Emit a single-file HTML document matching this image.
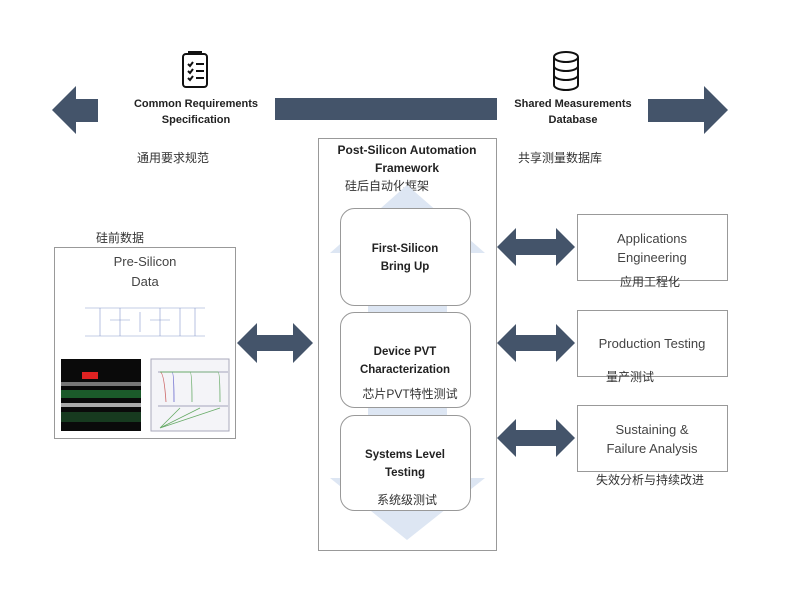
<!DOCTYPE html>
<html><head><meta charset="utf-8"><style>
body{margin:0;background:#fff;}
svg text{font-family:"Liberation Sans","Noto Sans CJK SC",sans-serif;}
</style></head><body>
<svg width="800" height="600" viewBox="0 0 800 600" xmlns="http://www.w3.org/2000/svg">
<rect width="800" height="600" fill="#fff"/>
<!-- top arrows -->
<g fill="#44546a">
<polygon points="52,110 76,86 76,99 98,99 98,122 76,122 76,134"/>
<rect x="275" y="98" width="222" height="22"/>
<polygon points="648,99 704,99 704,86 728,110 704,134 704,122 648,122"/>
</g>
<g font-weight="bold" font-size="11" fill="#222" text-anchor="middle">
<text x="196" y="107">Common Requirements</text>
<text x="196" y="123">Specification</text>
<text x="573" y="107">Shared Measurements</text>
<text x="573" y="123">Database</text>
</g>
<!-- clipboard icon -->
<g stroke="#111" stroke-width="2" fill="none">
<rect x="183" y="54" width="24" height="33" rx="3"/>
<path d="M189,55 v-3 h12 v3"/>
<path d="M188,64 l2,2 3,-4 M188,71 l2,2 3,-4 M188,78 l2,2 3,-4"/>
<path d="M196,64 h8 M196,71 h8 M196,78 h8"/>
</g>
<!-- database icon -->
<g stroke="#111" stroke-width="2" fill="none">
<ellipse cx="566" cy="57" rx="12" ry="5"/>
<path d="M554,57 v28 a12,5 0 0 0 24,0 v-28 M554,66 a12,5 0 0 0 24,0 M554,75 a12,5 0 0 0 24,0"/>
</g>
<g font-size="12" fill="#333">
<text x="137" y="162">通用要求规范</text>
<text x="518" y="162">共享测量数据库</text>
<text x="96" y="242">硅前数据</text>
</g>
<!-- framework -->
<rect x="318.5" y="138.5" width="178" height="412" fill="#fff" stroke="#999"/>
<text x="407" y="154" text-anchor="middle" font-weight="bold" font-size="12" fill="#222">Post-Silicon Automation</text>
<text x="407" y="172" text-anchor="middle" font-weight="bold" font-size="12" fill="#222">Framework</text>
<text x="345" y="190" font-size="12" fill="#333">硅后自动化框架</text>
<!-- light blue big arrow -->
<g fill="#dde6f3">
<polygon points="330,253 407,185 485,253 447,253 447,478 485,478 407,540 330,478 368,478 368,253"/>
</g>
<g fill="#fff" stroke="#999" stroke-width="1">
<rect x="340.5" y="208.5" width="130" height="97" rx="14"/>
<rect x="340.5" y="312.5" width="130" height="95" rx="14"/>
<rect x="340.5" y="415.5" width="130" height="95" rx="14"/>
</g>
<g font-weight="bold" font-size="11.5" fill="#222" text-anchor="middle">
<text x="405" y="252">First-Silicon</text>
<text x="405" y="270">Bring Up</text>
<text x="405" y="355">Device PVT</text>
<text x="405" y="373">Characterization</text>
<text x="405" y="458">Systems Level</text>
<text x="405" y="476">Testing</text>
</g>
<g font-size="12" fill="#333" text-anchor="middle">
<text x="410" y="398">芯片PVT特性测试</text>
<text x="407" y="504">系统级测试</text>
</g>
<!-- pre-silicon -->
<rect x="54.5" y="247.5" width="181" height="191" fill="#fff" stroke="#999"/>
<text x="145" y="266" text-anchor="middle" font-size="13" fill="#444">Pre-Silicon</text>
<text x="145" y="286" text-anchor="middle" font-size="13" fill="#444">Data</text>
<g stroke="#8899cc" stroke-width="0.6" fill="none">
<path d="M85,308 h120 M85,336 h120 M100,308 v28 M120,308 v28 M140,312 v20 M160,308 v28 M180,308 v28 M195,308 v28 M110,320 h20 M150,320 h20"/>
</g>
<rect x="61" y="359" width="80" height="72" fill="#0a0a0a"/>
<rect x="82" y="372" width="16" height="7" fill="#d22"/>
<rect x="61" y="382" width="80" height="4" fill="#777"/>
<rect x="61" y="390" width="80" height="8" fill="#1b5a2a"/>
<rect x="61" y="403" width="80" height="4" fill="#aaa"/>
<rect x="61" y="412" width="80" height="10" fill="#173a1f"/>
<rect x="151" y="359" width="78" height="72" fill="#f4f4f8" stroke="#aab"/>
<g fill="none" stroke-width="0.8">
<path d="M158,372 h70" stroke="#88a"/>
<path d="M160,372 q4,0 6,30" stroke="#c66"/>
<path d="M160,372 h12 q2,0 2,30" stroke="#66c"/>
<path d="M160,372 h30 q2,0 2,30" stroke="#6a6"/>
<path d="M160,372 h58 q2,0 2,30" stroke="#6a6"/>
<path d="M158,406 h70" stroke="#88a"/>
<path d="M160,428 l20,-20 M160,428 l40,-20 M160,428 l60,-20" stroke="#6a6"/>
</g>
<!-- double arrows -->
<g fill="#44546a">
<polygon points="237,343 257,323 257,335 293,335 293,323 313,343 293,363 293,351 257,351 257,363"/>
<polygon points="497,247 516,228 516,239 556,239 556,228 575,247 556,266 556,255 516,255 516,266"/>
<polygon points="497,343 516,324 516,335 556,335 556,324 575,343 556,362 556,351 516,351 516,362"/>
<polygon points="497,438 516,419 516,430 556,430 556,419 575,438 556,457 556,446 516,446 516,457"/>
</g>
<g fill="#fff" stroke="#999">
<rect x="577.5" y="214.5" width="150" height="66"/>
<rect x="577.5" y="310.5" width="150" height="66"/>
<rect x="577.5" y="405.5" width="150" height="66"/>
</g>
<g font-size="13" fill="#444" text-anchor="middle">
<text x="652" y="243">Applications</text>
<text x="652" y="262">Engineering</text>
<text x="652" y="348">Production Testing</text>
<text x="652" y="434">Sustaining &amp;</text>
<text x="652" y="453">Failure Analysis</text>
</g>
<g font-size="12" fill="#333" text-anchor="middle">
<text x="650" y="286">应用工程化</text>
<text x="630" y="381">量产测试</text>
<text x="650" y="484">失效分析与持续改进</text>
</g>
</svg>
</body></html>
